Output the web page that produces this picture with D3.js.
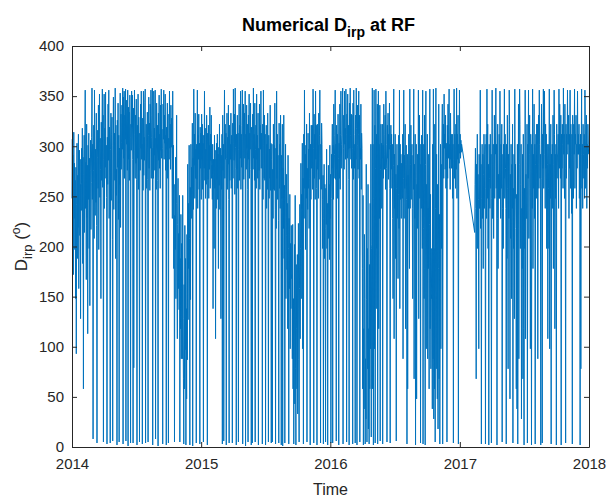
<!DOCTYPE html>
<html>
<head>
<meta charset="utf-8">
<script src="https://cdn.jsdelivr.net/npm/d3@7"></script>
<style>
  html, body { margin: 0; padding: 0; background: #fff; }
  svg { display: block; font-family: "Liberation Sans", Arial, sans-serif; }
</style>
</head>
<body>
<svg id="chart" width="608" height="502"></svg>
<script>
// Direction D_irp (degrees) at RF, sampled through 2014–2017.
// Record before the early-2017 outage.
const seg1Start = "2014-01-01";
const seg1End = "2017-01-06";
const seg1Values = [
  248,307,203,291,172,314,228,283,197,266,148,279,93,242,303,188,271,219,312,158,254,296,211,287,128,262,236,298,
  263,318,183,289,58,272,311,214,297,356,238,284,167,322,229,281,113,301,247,313,198,288,141,276,306,217,264,309,
  358,247,302,8,276,321,208,356,268,231,297,244,333,221,4,289,316,258,341,197,303,352,249,308,277,148,324,266,
  311,357,259,331,5,287,352,238,318,279,354,268,301,249,3,309,262,342,286,356,228,319,271,4,297,333,246,312,
  329,207,6,301,349,237,292,313,266,358,188,321,251,277,2,326,279,343,227,311,5,298,262,353,219,332,277,304,
  341,297,358,3,349,288,355,268,331,307,357,6,346,302,318,276,356,1,339,287,334,266,351,309,4,322,296,355,
  319,351,287,4,338,79,312,356,296,268,331,283,347,267,2,321,288,352,257,329,299,5,313,276,342,298,355,287,
  302,3,328,256,355,271,309,286,344,357,4,288,322,258,297,334,267,5,311,349,278,323,256,342,298,356,268,309,
  331,358,2,298,268,355,291,318,276,356,8,308,257,343,299,321,266,1,333,286,351,278,312,258,341,296,357,288,
  317,298,3,342,307,356,287,331,303,352,276,311,2,319,297,343,268,332,4,308,287,355,298,322,277,341,299,328,
  288,228,355,257,301,178,262,5,231,197,289,148,243,331,177,108,222,268,158,213,137,251,5,188,118,232,88,203,
  157,88,251,128,68,3,162,58,221,97,188,2,138,48,212,87,282,127,243,178,301,208,2,259,147,302,228,279,
  258,323,1,288,237,357,281,312,248,333,268,297,4,302,267,356,238,311,287,332,257,303,3,319,278,313,247,332,
  287,322,257,303,5,311,278,355,266,318,248,297,262,331,288,2,313,267,321,248,301,277,339,258,312,286,331,268,
  281,247,302,138,287,272,198,311,258,296,108,287,238,303,267,312,247,292,178,299,261,322,237,283,298,128,291,257,
  312,3,331,276,302,6,298,356,268,322,287,313,2,288,333,257,309,282,341,247,4,321,266,302,287,333,258,311,
  298,4,323,268,357,303,286,332,252,358,299,278,2,312,277,331,258,313,5,297,342,266,321,288,355,257,312,279,
  321,356,3,298,342,267,311,333,288,355,1,312,277,341,298,322,257,5,331,287,352,268,313,297,343,277,2,319,
  301,4,332,277,358,288,312,266,343,5,297,321,258,352,287,311,268,333,2,298,276,342,257,321,297,355,278,313,
  288,3,322,247,356,301,268,331,266,312,2,278,321,238,302,257,333,277,5,311,248,297,268,341,256,303,4,287,
  302,5,277,228,322,257,301,256,343,237,3,298,218,355,268,312,247,291,226,4,323,258,302,238,331,267,2,291,
  248,322,1,278,218,331,188,261,4,257,302,148,211,272,177,243,118,291,198,3,228,158,252,98,203,138,221,168,
  172,88,222,58,148,3,108,202,43,251,78,2,182,118,58,192,33,138,223,87,5,158,242,108,198,283,148,252,
  238,303,98,268,3,312,228,356,258,292,197,301,248,322,5,278,237,313,258,297,218,333,268,2,302,247,321,278,
  282,321,257,357,298,4,332,268,312,247,355,287,321,258,2,322,277,301,248,333,267,311,356,288,4,302,257,323,
  302,247,198,271,3,228,282,188,262,218,5,258,222,297,198,243,2,238,281,208,262,187,301,228,272,4,248,292,
  278,322,4,301,247,342,268,292,311,356,267,302,6,321,277,312,248,332,288,2,303,268,342,257,312,355,278,302,
  311,342,358,3,298,331,277,355,302,318,287,357,312,5,332,288,352,297,321,267,2,343,298,358,311,287,332,278,
  331,298,3,343,267,356,312,278,302,4,331,287,358,318,2,301,341,277,312,355,268,331,5,298,287,342,257,313,
  298,178,58,251,2,118,38,212,148,3,88,28,282,147,5,198,78,262,18,118,3,182,58,243,98,302,10,198,
  202,358,58,302,2,248,356,98,321,4,278,357,138,312,198,342,3,258,355,118,302,228,341,6,277,322,238,303,
  288,322,3,301,268,342,312,277,292,331,257,355,302,278,5,321,288,333,267,312,297,343,258,4,302,321,277,312,
  258,302,228,148,281,357,108,292,238,312,188,272,6,258,302,228,281,168,252,311,218,356,138,302,247,292,228,283,
  281,248,312,88,268,356,228,291,258,322,118,282,301,247,3,292,58,271,238,312,257,178,357,238,282,321,247,292,
  302,238,148,291,257,357,68,282,228,312,2,268,302,48,262,218,292,237,356,128,272,331,248,302,4,282,238,311,
  248,198,356,3,218,302,148,331,178,2,282,355,98,262,198,312,88,238,178,292,58,222,357,118,252,78,198,148,
  152,38,302,88,357,28,198,58,322,5,238,358,78,292,118,48,262,18,178,342,68,232,3,148,302,98,282,198,
  302,342,3,288,322,268,352,298,312,277,331,258,303,287,5,321,268,342,288,312,357,278,302,257,333,287,312,278,
  282,312,248,302,4,287,357,268,312,297,258,322,277,358,248,312,287,331,3,302,283,356,293,312,288,306,294,302
];

// Record after the outage, to the end of 2017.
const seg2Start = "2017-02-12";
const seg2End = "2017-12-31";
const seg2Values = [
  214,262,298,238,68,282,228,312,198,272,247,98,292,238,262,356,218,282,3,248,302,228,292,178,272,312,238,292,
  302,3,258,312,228,357,248,322,198,282,2,302,268,238,312,258,292,4,248,356,228,282,302,208,272,331,248,292,
  292,358,258,302,2,228,322,178,272,248,312,248,355,292,228,302,258,322,5,238,292,198,302,268,357,248,312,278,
  238,3,302,188,331,258,78,292,228,356,322,48,272,208,302,148,282,238,322,4,258,198,292,128,357,248,282,218,
  58,252,38,302,3,218,342,88,282,357,322,198,262,302,28,238,178,292,68,312,118,2,258,198,356,108,272,228,
  228,322,4,302,268,356,208,292,331,258,98,312,278,2,302,238,357,178,292,258,342,228,302,3,282,312,248,322,
  302,322,88,282,331,258,356,302,268,292,2,268,342,302,4,312,278,357,258,302,355,292,238,322,278,312,198,302,
  282,108,302,258,198,357,98,282,248,322,3,292,268,302,238,331,178,282,356,312,118,292,248,302,2,322,268,292,
  292,312,238,357,278,342,302,268,331,2,312,278,322,302,258,358,292,312,248,342,278,4,322,268,312,292,356,302,
  302,331,228,312,278,356,258,322,292,233,312,3,331,278,248,322,292,357,258,312,302,331,238,302,278,355,292,312,
  292,322,248,302,2,312,78,292,357,258,302,238,322,292,268,312,248,356,322,258,292,331,238,302,278,322,302,292
];

const yTicks = [0, 50, 100, 150, 200, 250, 300, 350, 400];
const xTickYears = ["2014", "2015", "2016", "2017", "2018"];

const parse = d3.utcParse("%Y-%m-%d");

// Spread each record's samples evenly across its own date span.
function toSeries(startStr, endStr, values) {
  const t0 = parse(startStr).getTime();
  const t1 = parse(endStr).getTime();
  const n = values.length;
  return values.map((v, i) => ({ t: new Date(t0 + (t1 - t0) * i / (n - 1)), v }));
}
const series = toSeries(seg1Start, seg1End, seg1Values)
  .concat(toSeries(seg2Start, seg2End, seg2Values));

const svg = d3.select("#chart");
const margin = { left: 72, right: 19, top: 46, bottom: 55 };
const W = 608, H = 502;
const x0 = margin.left, x1 = W - margin.right;
const y0 = H - margin.bottom, y1 = margin.top;

const xTicks = xTickYears.map(y => parse(y + "-01-01"));
const x = d3.scaleUtc().domain([xTicks[0], xTicks[xTicks.length - 1]]).range([x0, x1]);
const y = d3.scaleLinear().domain([0, 400]).range([y0, y1]);

const axisColor = "#262626";
const lineColor = "#0072BD";

// Data line
svg.append("path")
  .datum(series)
  .attr("fill", "none")
  .attr("stroke", lineColor)
  .attr("stroke-width", 1)
  .attr("stroke-linejoin", "bevel")
  .attr("d", d3.line().x(d => x(d.t)).y(d => y(d.v)));

// Axes: inward ticks, mirrored on top and right to close the box
const fmtYear = d3.utcFormat("%Y");
const gx = svg.append("g").attr("transform", `translate(0,${y0})`)
  .call(d3.axisBottom(x).tickValues(xTicks).tickFormat(fmtYear).tickSizeInner(-5).tickSizeOuter(0).tickPadding(11));
const gxTop = svg.append("g").attr("transform", `translate(0,${y1})`)
  .call(d3.axisTop(x).tickValues(xTicks).tickFormat("").tickSizeInner(-5).tickSizeOuter(0));
const gy = svg.append("g").attr("transform", `translate(${x0},0)`)
  .call(d3.axisLeft(y).tickValues(yTicks).tickSizeInner(-5).tickSizeOuter(0).tickPadding(8));
const gyRight = svg.append("g").attr("transform", `translate(${x1},0)`)
  .call(d3.axisRight(y).tickValues(yTicks).tickFormat("").tickSizeInner(-5).tickSizeOuter(0));

[gx, gxTop, gy, gyRight].forEach(g => {
  g.selectAll(".domain").attr("stroke", axisColor).attr("stroke-width", 1);
  g.selectAll(".tick line").attr("stroke", axisColor).attr("stroke-width", 1);
  g.selectAll(".tick text").attr("fill", axisColor)
    .style("font-size", "15px").style("font-family", "'Liberation Sans', Arial, sans-serif");
});

// Title
const title = svg.append("text")
  .attr("x", (x0 + x1) / 2 - 2).attr("y", 31)
  .attr("text-anchor", "middle")
  .attr("fill", "#000")
  .style("font-size", "18px").style("font-weight", "bold");
title.append("tspan").text("Numerical D");
title.append("tspan").attr("dy", 6).style("font-size", "14px").text("irp");
title.append("tspan").attr("dy", -6).text(" at RF");

// X label
svg.append("text")
  .attr("x", (x0 + x1) / 2).attr("y", 495)
  .attr("text-anchor", "middle").attr("fill", axisColor)
  .style("font-size", "16px").text("Time");

// Y label
const yl = svg.append("text")
  .attr("transform", `translate(27,${(y0 + y1) / 2}) rotate(-90)`)
  .attr("text-anchor", "middle").attr("fill", axisColor)
  .style("font-size", "17px");
yl.append("tspan").text("D");
yl.append("tspan").attr("dy", 5).style("font-size", "13px").text("irp");
yl.append("tspan").attr("dy", -5).text(" (");
yl.append("tspan").attr("dy", -7).style("font-size", "12px").text("o");
yl.append("tspan").attr("dy", 7).text(")");
</script>
</body>
</html>
